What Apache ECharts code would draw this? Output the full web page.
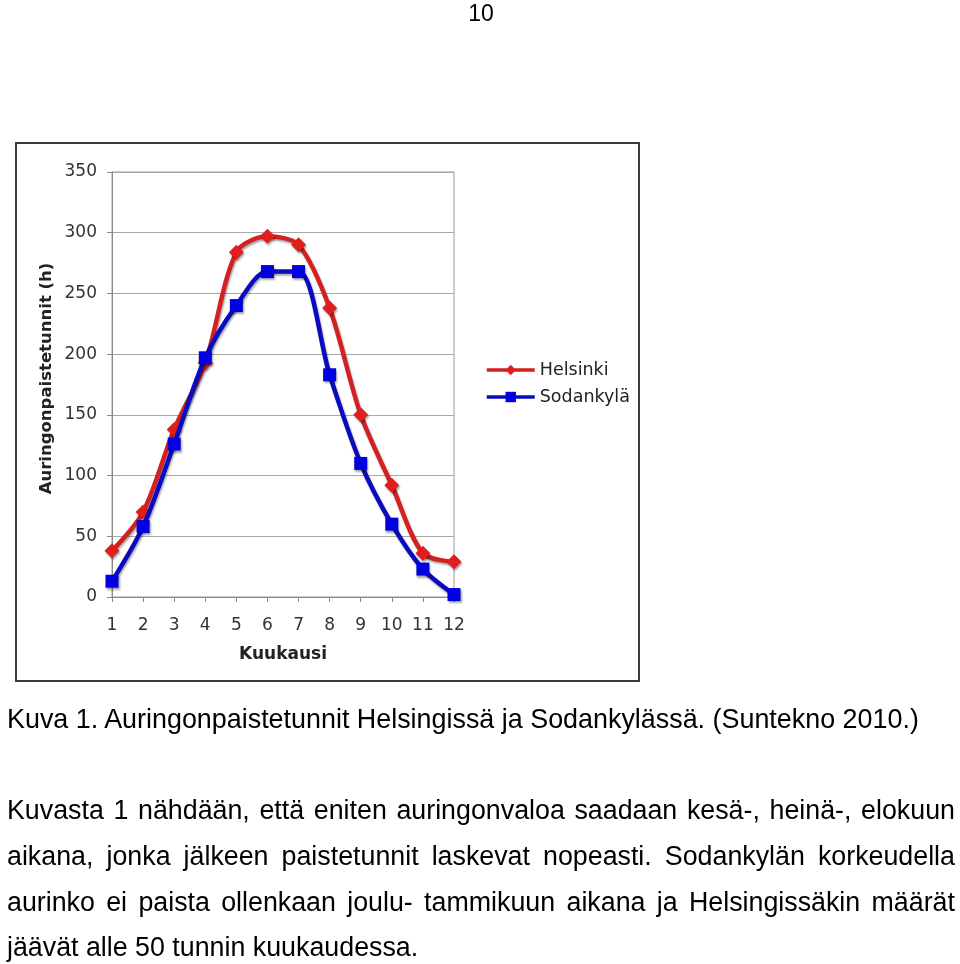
<!DOCTYPE html>
<html>
<head>
<meta charset="utf-8">
<script src="https://cdn.jsdelivr.net/npm/echarts@6/dist/echarts.min.js"></script>
<style>
  html, body { margin: 0; padding: 0; background: #fff; }
  #page { position: relative; width: 960px; height: 964px; overflow: hidden; }
  #chart { position: absolute; left: 0; top: 0; width: 960px; height: 964px; }
  .txt { position: absolute; font-family: "Liberation Sans", Arial, sans-serif; color: #000; pointer-events: none; }
  .pnum { left: 0; width: 962px; text-align: center; top: 2px; font-size: 23px; line-height: 23px; }
  .cap { left: 7px; top: 697px; font-size: 26.9px; line-height: 45.8px; white-space: nowrap; }
  .para { left: 7px; top: 788px; width: 948px; font-size: 26.8px; line-height: 45.8px; }
  .jl { display: flex; justify-content: space-between; white-space: nowrap; }
  .ll { white-space: nowrap; }
</style>
</head>
<body>
<div id="page">
  <div id="chart"></div>
  <div class="txt pnum">10</div>
  <div class="txt cap">Kuva 1. Auringonpaistetunnit Helsingissä ja Sodankylässä. (Suntekno 2010.)</div>
  <div class="txt para" id="para"></div>
</div>
<script>
// ---- data ----
const months = ['1','2','3','4','5','6','7','8','9','10','11','12'];
const helsinki = [38, 70, 138, 193, 284, 297, 290, 238, 150, 92, 36, 29];
const sodankyla = [13, 58, 126, 197, 240, 268, 268, 183, 110, 60, 23, 2];
const yTicks = [0, 50, 100, 150, 200, 250, 300, 350];
const seriesNames = ['Helsinki', 'Sodankylä'];
const xName = 'Kuukausi';
const yName = 'Auringonpaistetunnit (h)';
const paraLines = [
  'Kuvasta 1 nähdään, että eniten auringonvaloa saadaan kesä-, heinä-, elokuun',
  'aikana, jonka jälkeen paistetunnit laskevat nopeasti. Sodankylän korkeudella',
  'aurinko ei paista ollenkaan joulu- tammikuun aikana ja Helsingissäkin määrät',
  'jäävät alle 50 tunnin kuukaudessa.'
];

// ---- paragraph text (justified lines) ----
const para = document.getElementById('para');
paraLines.forEach((line, i) => {
  const d = document.createElement('div');
  if (i < paraLines.length - 1) {
    d.className = 'jl';
    line.split(' ').forEach(w => {
      const s = document.createElement('span');
      s.textContent = w;
      d.appendChild(s);
    });
  } else {
    d.className = 'll';
    d.textContent = line;
  }
  para.appendChild(d);
});

// ---- chart ----
const chart = echarts.init(document.getElementById('chart'), null, { renderer: 'canvas' });
const labelFont = 'DejaVu Sans, Verdana, sans-serif';
const shadow = { shadowColor: 'rgba(0,0,0,0.35)', shadowBlur: 2, shadowOffsetX: 1, shadowOffsetY: 2 };

chart.setOption({
  animation: false,
  backgroundColor: '#ffffff',
  graphic: [{
    type: 'rect',
    shape: { x: 16, y: 143, width: 623, height: 538 },
    style: { fill: 'none', stroke: '#3a3a3a', lineWidth: 2 },
    silent: true
  }],
  grid: {
    left: 112, top: 172, right: 506, bottom: 367,
    show: true, borderColor: '#9a9a9a', borderWidth: 1, backgroundColor: 'transparent'
  },
  legend: {
    orient: 'vertical',
    left: 485, top: 361,
    padding: 0,
    itemWidth: 48, itemHeight: 13, itemGap: 9,
    lineStyle: { width: 3.5 },
    textStyle: { fontFamily: labelFont, fontSize: 17.5, color: '#222' },
    data: seriesNames
  },
  xAxis: {
    type: 'category',
    data: months,
    boundaryGap: false,
    name: xName,
    nameLocation: 'middle',
    nameGap: 49,
    nameTextStyle: { fontFamily: labelFont, fontSize: 17, fontWeight: 'bold', color: '#222' },
    axisLine: { lineStyle: { color: '#8a8a8a', width: 1 } },
    axisTick: { show: true, length: 5, alignWithLabel: true, lineStyle: { color: '#8a8a8a' } },
    axisLabel: { fontFamily: labelFont, fontSize: 17, color: '#333', margin: 20 },
    splitLine: { show: false }
  },
  yAxis: {
    type: 'value',
    min: yTicks[0], max: yTicks[yTicks.length - 1], interval: yTicks[1] - yTicks[0],
    name: yName,
    nameLocation: 'middle',
    nameGap: 57,
    nameRotate: 90,
    nameTextStyle: { fontFamily: labelFont, fontSize: 16.5, fontWeight: 'bold', color: '#222', padding: [0, 0, 0, 12] },
    axisLine: { show: true, lineStyle: { color: '#8a8a8a', width: 1 } },
    axisTick: { show: true, length: 5, lineStyle: { color: '#8a8a8a' } },
    axisLabel: { fontFamily: labelFont, fontSize: 17, color: '#333', margin: 15 },
    splitLine: { show: true, lineStyle: { color: '#a8a8a8', width: 1 } }
  },
  series: [
    {
      name: seriesNames[0],
      type: 'line',
      data: helsinki,
      smooth: 0.3,
      symbol: 'diamond',
      symbolSize: 15,
      lineStyle: Object.assign({ color: '#d42020', width: 4.5 }, shadow),
      itemStyle: Object.assign({ color: '#e01e1e' }, shadow),
      z: 3
    },
    {
      name: seriesNames[1],
      type: 'line',
      data: sodankyla,
      smooth: 0.3,
      symbol: 'rect',
      symbolSize: 13,
      lineStyle: Object.assign({ color: '#0a0ac0', width: 4.5 }, shadow),
      itemStyle: Object.assign({ color: '#0000e0' }, shadow),
      z: 4
    }
  ]
});
</script>
</body>
</html>
